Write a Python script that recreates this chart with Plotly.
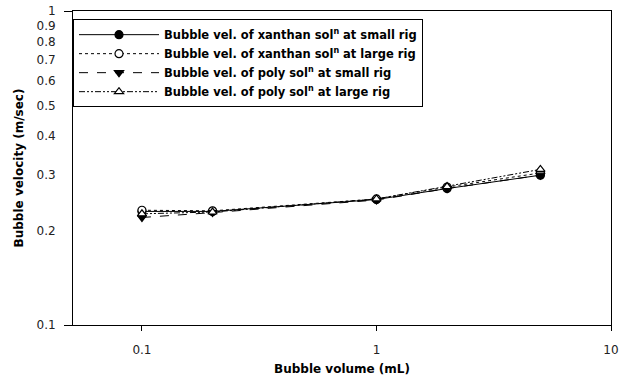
import plotly.graph_objects as go

# Bubble volume (mL) and terminal bubble velocity (m/sec)
volume = [0.1, 0.2, 1, 2, 5]
xanthan_small = [0.230, 0.230, 0.251, 0.272, 0.300]
xanthan_large = [0.232, 0.231, 0.252, 0.275, 0.305]
poly_small = [0.220, 0.228, 0.250, 0.272, 0.300]
poly_large = [0.226, 0.229, 0.252, 0.276, 0.313]

y_ticks = [0.1, 0.2, 0.3, 0.4, 0.5, 0.6, 0.7, 0.8, 0.9, 1]
y_tick_text = ["0.1", "0.2", "0.3", "0.4", "0.5", "0.6", "0.7", "0.8", "0.9", "1"]
x_ticks = [0.1, 1, 10]
x_tick_text = ["0.1", "1", "10"]

series = [
    ("Bubble vel. of xanthan sol<sup>n</sup> at small rig", xanthan_small,
     "solid", "circle", "black"),
    ("Bubble vel. of xanthan sol<sup>n</sup> at large rig", xanthan_large,
     "dot", "circle", "white"),
    ("Bubble vel. of poly sol<sup>n</sup> at small rig", poly_small,
     "dash", "triangle-down", "black"),
    ("Bubble vel. of poly sol<sup>n</sup> at large rig", poly_large,
     "6px,2px,2px,2px,2px,2px", "triangle-up", "white"),
]

fig = go.Figure()
for name, vals, dash, symbol, fill in series:
    fig.add_trace(go.Scatter(
        x=volume, y=vals, name=name, mode="lines+markers",
        line=dict(color="black", width=1, dash=dash),
        marker=dict(symbol=symbol, size=8, color=fill,
                    line=dict(color="black", width=1.2)),
    ))

font_family = "DejaVu Sans, Arial, sans-serif"
fig.update_layout(
    width=624, height=378,
    margin=dict(l=73, r=13, t=11, b=53),
    paper_bgcolor="white", plot_bgcolor="white",
    font=dict(family=font_family, size=12, color="black"),
    showlegend=True,
    legend=dict(
        x=0, y=0.974, xanchor="left", yanchor="top",
        bgcolor="white", bordercolor="black", borderwidth=1,
        font=dict(family=font_family, size=11.5, color="black", weight="bold"),
        tracegroupgap=0, itemwidth=80,
    ),
)
fig.update_xaxes(
    type="log", range=[-1.294, 1],
    tickvals=x_ticks, ticktext=x_tick_text,
    ticks="outside", ticklen=5, tickcolor="black", tickwidth=1,
    ticklabelstandoff=9, automargin=False,
    showline=True, linecolor="black", linewidth=1, mirror=True,
    showgrid=False, zeroline=False,
    tickfont=dict(size=12, color="#222"),
    title=dict(text="<b>Bubble volume (mL)</b>", standoff=8,
               font=dict(size=12, color="black")),
)
fig.update_yaxes(
    type="log", range=[-1, 0],
    tickvals=y_ticks, ticktext=y_tick_text,
    ticks="", ticklabelstandoff=14, automargin=False,
    minor=dict(tickmode="array", tickvals=[0.1, 1], ticks="outside",
               ticklen=8, tickcolor="black", tickwidth=1, showgrid=False),
    showline=True, linecolor="black", linewidth=1, mirror=True,
    showgrid=False, zeroline=False,
    tickfont=dict(size=12, color="#222"),
    title=dict(text="<b>Bubble velocity (m/sec)</b>", standoff=10,
               font=dict(size=12, color="black")),
)

fig.write_html("out.html")
